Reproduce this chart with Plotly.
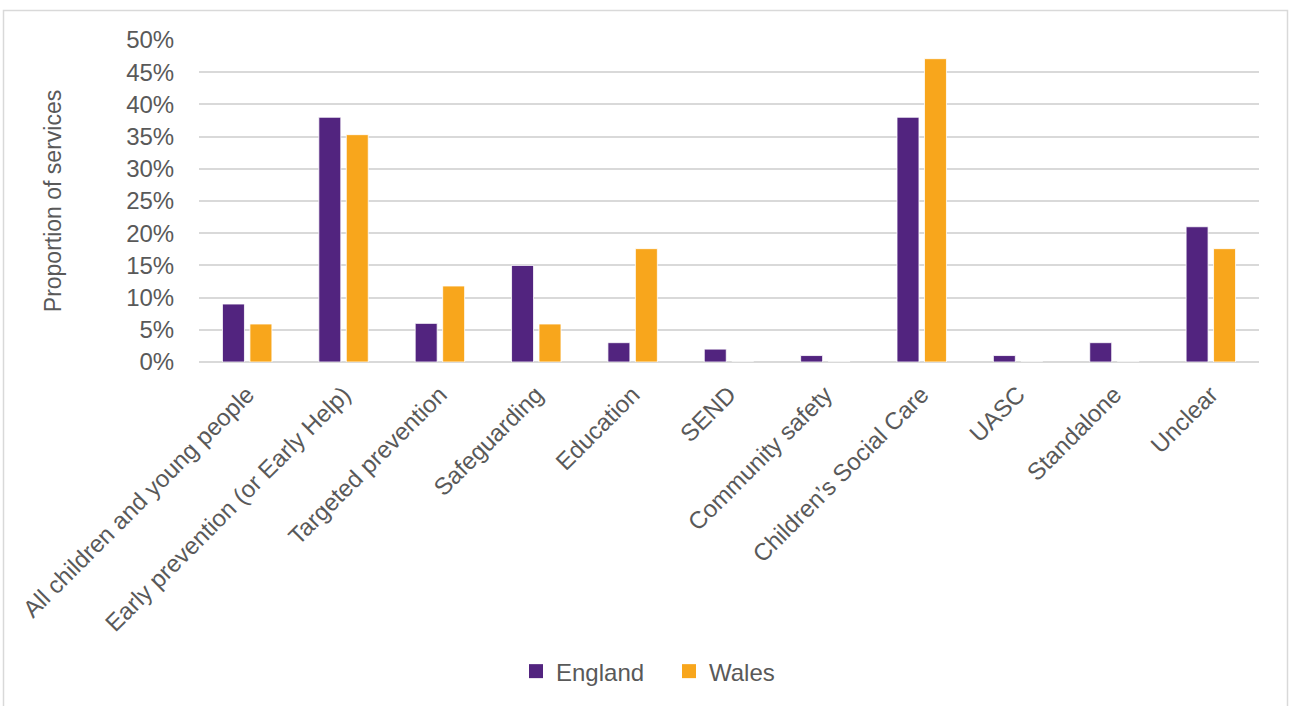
import plotly.graph_objects as go

categories = [
    "All children and young people",
    "Early prevention (or Early Help)",
    "Targeted prevention",
    "Safeguarding",
    "Education",
    "SEND",
    "Community safety",
    "Children\u2019s Social Care",
    "UASC",
    "Standalone",
    "Unclear",
]
england = [0.09, 0.38, 0.06, 0.15, 0.03, 0.02, 0.01, 0.38, 0.01, 0.03, 0.21]
wales = [0.059, 0.353, 0.118, 0.059, 0.176, 0, 0, 0.471, 0, 0, 0.176]
y_ticks = [0, 0.05, 0.10, 0.15, 0.20, 0.25, 0.30, 0.35, 0.40, 0.45, 0.50]

PURPLE = "#52247F"
ORANGE = "#F8A61C"
TXT = "#595959"
FONT = "Liberation Sans, Arial, sans-serif"

fig = go.Figure()
fig.add_trace(go.Bar(name="England", x=categories, y=england, showlegend=False,
                     marker=dict(color=PURPLE, line=dict(color="#ffffff", width=0.8))))
fig.add_trace(go.Bar(name="Wales", x=categories, y=wales, showlegend=False,
                     marker=dict(color=ORANGE, line=dict(color="#ffffff", width=0.8))))
# legend entries with larger square swatches
for name, col in (("England", PURPLE), ("Wales", ORANGE)):
    fig.add_trace(go.Scatter(name=name, x=[None], y=[None], mode="markers",
                             marker=dict(symbol="square", size=14, color=col),
                             showlegend=True))

W, H = 1290, 706
L, R, T, B = 199, 1259, 39.5, 362.5
pw, ph = R - L, B - T

fig.update_layout(
    width=W, height=H,
    margin=dict(l=L, r=W - R, t=T, b=H - B, pad=0),
    paper_bgcolor="white", plot_bgcolor="white",
    font=dict(family=FONT, size=24, color=TXT),
    barmode="group", bargap=0.43, bargroupgap=0.2,
    showlegend=True,
    legend=dict(orientation="h", x=(516 - L) / pw, xanchor="left",
                y=(B - 673) / ph, yanchor="middle",
                entrywidth=108, entrywidthmode="pixels",
                font=dict(size=24, color=TXT),
                traceorder="normal"),
    xaxis=dict(tickangle=-45, showgrid=False, showline=False,
               ticks="outside", ticklen=8, tickcolor="rgba(0,0,0,0)",
               tickfont=dict(size=24, color=TXT), zeroline=False),
    yaxis=dict(range=[0, 0.5], tickvals=y_ticks, tickformat=".0%",
               showgrid=True, gridcolor="#d9d9d9", gridwidth=1.5,
               zeroline=True, zerolinecolor="#d9d9d9", zerolinewidth=1.5,
               showline=False, ticks="outside", ticklen=19,
               tickcolor="rgba(0,0,0,0)",
               tickfont=dict(size=24, color=TXT),
               title=dict(text="Proportion of services", standoff=58,
                          font=dict(size=23, color=TXT))),
)

# outer chart border
fig.add_shape(type="rect", xref="paper", yref="paper",
              x0=(3.5 - L) / pw, x1=(1287.5 - L) / pw,
              y0=(B - 760) / ph, y1=(B - 10) / ph,
              line=dict(color="#d9d9d9", width=1.5), fillcolor="rgba(0,0,0,0)",
              layer="below")

fig.write_html("out.html")
